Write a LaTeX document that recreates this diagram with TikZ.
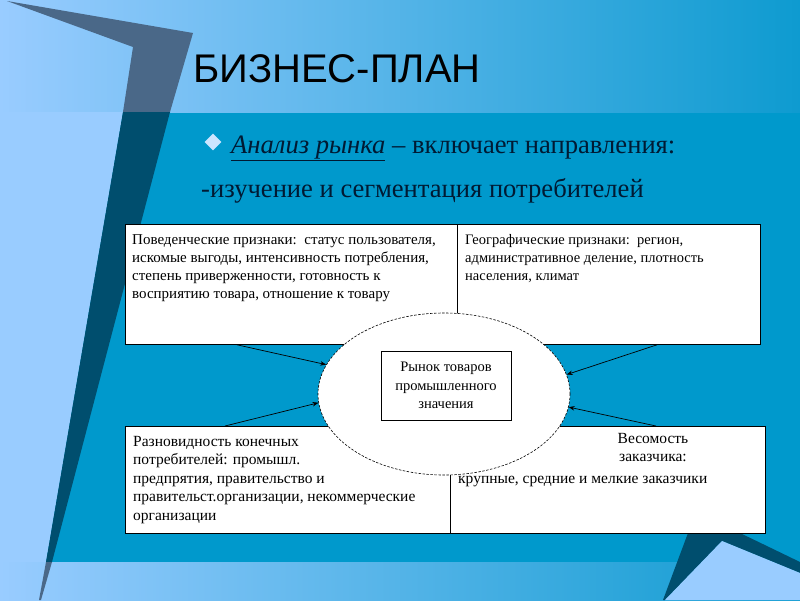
\documentclass[tikz,border=0pt]{standalone}
\usepackage{fontspec}
\setmainfont{Liberation Serif}
\newfontfamily\headfont{Liberation Sans}
\usetikzlibrary{shapes.geometric,arrows.meta,positioning}
\definecolor{slideblue}{HTML}{0099CC}
\definecolor{bandblue}{HTML}{0E9BD0}
\definecolor{paleblue}{HTML}{99CCFF}
\definecolor{wedgegray}{HTML}{4A6888}
\definecolor{wedgedark}{HTML}{004E6E}
\definecolor{bulletblue}{HTML}{CCE5FF}
\definecolor{ink}{HTML}{001A33}

\begin{document}
\begin{tikzpicture}[x=1pt, y=-1pt,
  segbox/.style = {draw, fill=white, line width=0.8pt, inner sep=0pt},
  boxtext/.style = {anchor=north west, inner sep=0pt, align=left, font=\fontsize{14.5}{18}\selectfont},
  bigtext/.style = {anchor=base west, inner sep=0pt, text=ink, font=\fontsize{26.6}{32}\selectfont},
  arr/.style = {-{Stealth[length=6pt, width=4.5pt]}, line width=0.7pt},
  ]
  \useasboundingbox (0,0) rectangle (800,600);
  \fill[slideblue] (0,0) rectangle (800,600);
  \shade[left color=paleblue, right color=bandblue] (0,0) rectangle (800,112);
  \shade[left color=paleblue, right color=bandblue] (0,562) rectangle (800,600);
  \fill[paleblue] (0,112) -- (123,112) -- (46,562) -- (0,562) -- cycle;
  \fill[wedgegray] (7,1) -- (193,33) -- (170,112) -- (123,112) -- (133,47) -- cycle;
  \fill[wedgedark] (123,112) -- (170,112) -- (52,562) -- (46,562) -- cycle;
  \fill[wedgegray] (46,562) -- (52,562) -- (41,600) -- (39,600) -- cycle;
  \fill[wedgedark] (688,533) -- (740,533) -- (800,562) -- (800,573) -- (722,541) -- (665,600) -- (663,600) -- cycle;
  \fill[paleblue] (722,541) -- (800,573) -- (800,600) -- (665,600) -- cycle;

  \node[anchor=base west, inner sep=0pt, font=\headfont\fontsize{40}{48}\selectfont] (title) at (193,82) {БИЗНЕС-ПЛАН};
  \node[diamond, fill=bulletblue, minimum width=17, minimum height=17, inner sep=0pt] (bullet) at (213,142) {};
  \node[bigtext] (analysis) at (231,153) {\underline{\textit{Анализ рынка}} – включает направления:};
  \node[bigtext] (study) at (201,197) {-изучение и сегментация потребителей};

  \node[segbox, anchor=north west, minimum width=332, minimum height=120] (behav) at (125,224) {};
  \node[segbox, anchor=north west, minimum width=303, minimum height=120] (geo) at (457,224) {};
  \node[segbox, anchor=north west, minimum width=325, minimum height=107] (kind) at (125,426) {};
  \node[segbox, anchor=north west, minimum width=315, minimum height=107] (weight) at (450,426) {};

  \node[boxtext, font=\fontsize{15}{18}\selectfont] (behavtext) at (132,234) {Поведенческие признаки:\ \ статус пользователя,\\искомые выгоды, интенсивность потребления,\\степень приверженности, готовность к\\восприятию товара, отношение к товару};
  \node[boxtext] (geotext) at (465,234) {Географические признаки:\ \ регион,\\административное деление, плотность\\населения, климат};
  \node[boxtext, font=\fontsize{15.5}{18.5}\selectfont] (kindtext) at (133,436) {Разновидность конечных\\потребителей: промышл.\\предпрятия, правительство и\\правительст.организации, некоммерческие\\организации};
  \node[boxtext, anchor=north, align=center, font=\fontsize{15.5}{18}\selectfont] (weighthead) at (653,433) {Весомость\\заказчика:};
  \node[boxtext, anchor=base west, font=\fontsize{15.5}{18}\selectfont] (weightbody) at (458,483) {крупные, средние и мелкие заказчики};

  \node[ellipse, draw, fill=white, dash pattern=on 2.5pt off 1.5pt, line width=0.6pt, minimum width=252, minimum height=162, inner sep=0pt] (market) at (444,394) {};
  \node[segbox, minimum width=130, minimum height=69, align=center, font=\fontsize{14.5}{18.5}\selectfont] (goods) at (446,385.5) {Рынок товаров\\промышленного\\значения};

  \draw[arr] ([xshift=112]behav.south west) -- (market.166);
  \draw[arr] ([xshift=100]kind.north west) -- (market.184);
  \draw[arr] ([xshift=200]geo.south west) -- (market.9);
  \draw[arr] ([xshift=206]weight.north west) -- (market.354);
\end{tikzpicture}
\end{document}
